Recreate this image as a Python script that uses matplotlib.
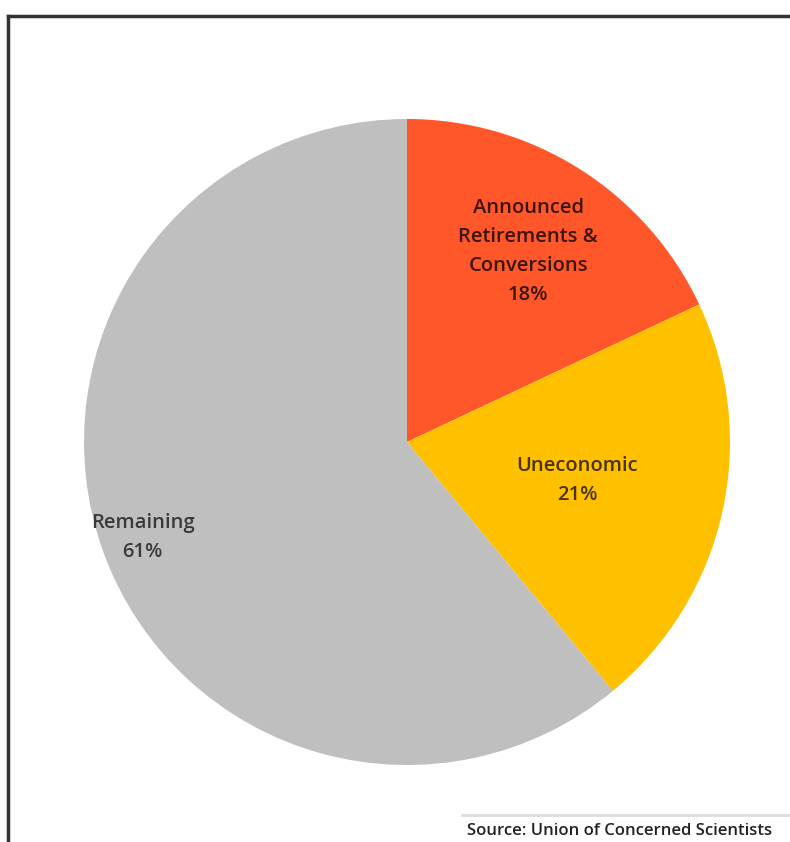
import matplotlib.pyplot as plt
import numpy as np
from matplotlib.lines import Line2D

labels = ['Announced\nRetirements &\nConversions', 'Uneconomic', 'Remaining']
shares = [18, 21, 61]
colors = ['#FF5729', '#FFC000', '#BFBFBF']
text_colors = ['#3b1508', '#4a3300', '#3a3a3a']
label_dist = [0.70, 0.54, 0.87]
source = 'Source: Union of Concerned Scientists'

plt.rcParams['font.family'] = ['Open Sans', 'DejaVu Sans']

fig = plt.figure(figsize=(7.9, 8.42), dpi=100)
cx, cy, r = 407, 400, 323
ax = fig.add_axes([(cx - r) / 790, (cy - r) / 842, 2 * r / 790, 2 * r / 842])

wedges, _ = ax.pie(shares, colors=colors, startangle=90, counterclock=False,
                   wedgeprops=dict(linewidth=0))
ax.set_xlim(-1, 1)
ax.set_ylim(-1, 1)

for w, lab, s, tc, d in zip(wedges, labels, shares, text_colors, label_dist):
    ang = np.deg2rad((w.theta1 + w.theta2) / 2)
    ax.text(d * np.cos(ang), d * np.sin(ang), f'{lab}\n{s}%', ha='center', va='center',
            fontsize=14.5, color=tc, linespacing=1.6, fontweight='semibold')

# frame lines (top and left)
fig.add_artist(Line2D([8 / 790, 1], [1 - 16 / 842] * 2, color='#333333', lw=2.5))
fig.add_artist(Line2D([8 / 790] * 2, [0, 1 - 16 / 842], color='#333333', lw=2.5))
fig.add_artist(Line2D([462 / 790, 1], [1 - 815 / 842] * 2, color='#dddddd', lw=2))
fig.text(467 / 790, 1 - 831 / 842, source, fontsize=12, color='#222222', va='center',
         fontweight='semibold')

fig.savefig('out.png', dpi=100)
